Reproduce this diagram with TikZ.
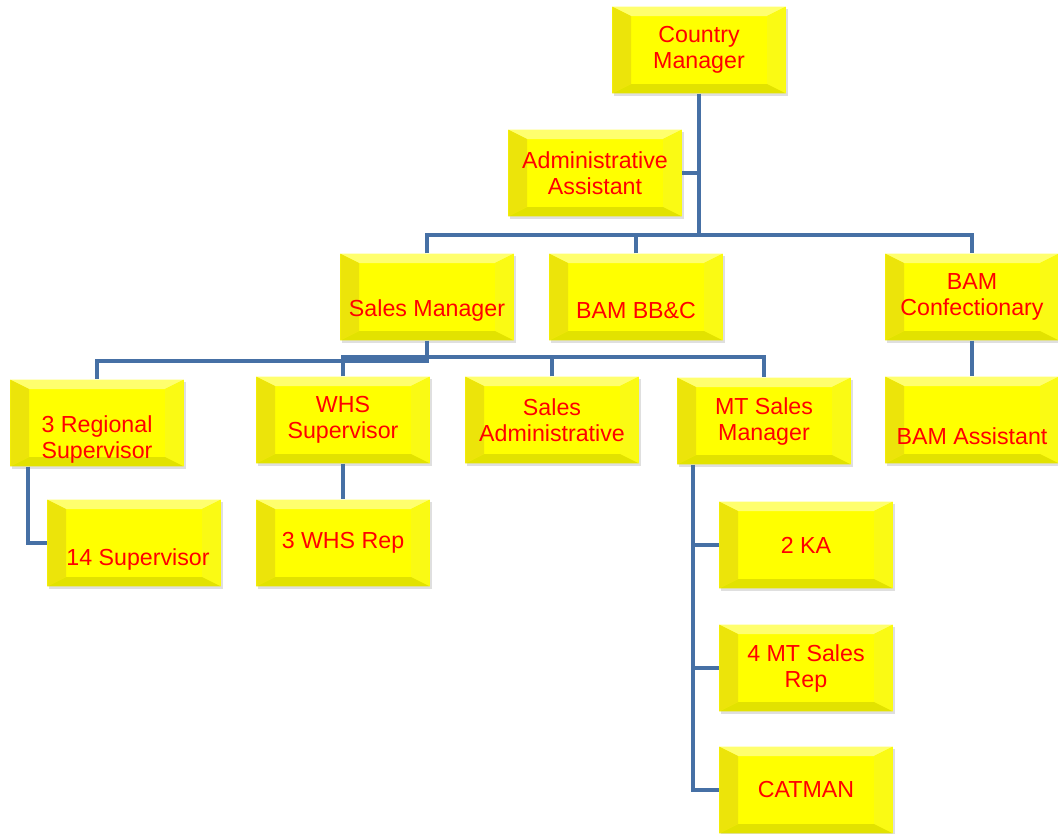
\documentclass[tikz,border=0pt]{standalone}
\usepackage{fontspec}
\setmainfont{Liberation Sans}
\usetikzlibrary{shadows}

\definecolor{boxyellow}{RGB}{255,255,0}
\definecolor{bevtop}{RGB}{255,255,110}
\definecolor{bevleft}{RGB}{236,228,10}
\definecolor{bevright}{RGB}{250,250,20}
\definecolor{bevbottom}{RGB}{226,226,0}
\definecolor{linkblue}{RGB}{70,112,165}

\newcommand{\orgfont}{\fontsize{17.4}{19.5}\selectfont}

\tikzset{
	txt/.style={text=red,font=\orgfont,align=center},
	bevel/.style={path picture={
		\path (path picture bounding box.north west) coordinate (p1)
		      (path picture bounding box.north east) coordinate (p2)
		      (path picture bounding box.south east) coordinate (p3)
		      (path picture bounding box.south west) coordinate (p4);
		\fill[bevtop] (p1) -- (p2) -- ([shift={(-14pt,-7pt)}]p2) -- ([shift={(14pt,-7pt)}]p1) -- cycle;
		\fill[bevright] (p2) -- (p3) -- ([shift={(-14pt,7pt)}]p3) -- ([shift={(-14pt,-7pt)}]p2) -- cycle;
		\fill[bevbottom] (p3) -- (p4) -- ([shift={(14pt,7pt)}]p4) -- ([shift={(-14pt,7pt)}]p3) -- cycle;
		\fill[bevleft] (p4) -- (p1) -- ([shift={(14pt,-7pt)}]p1) -- ([shift={(14pt,7pt)}]p4) -- cycle;
	}},
	orgbox/.style={txt,bevel,fill=boxyellow,minimum width=130pt,minimum height=65pt,inner sep=0pt,
		drop shadow={shadow xshift=1.5pt,shadow yshift=-2pt,opacity=0.25}},
	link/.style={draw=linkblue,line width=2.6pt}
}

\begin{document}
\begin{tikzpicture}
		[x=0.75pt,y=-0.75pt]
		\useasboundingbox (0,0) rectangle (1058,833);

		% top
		\node[orgbox] (cm) at (699,50) {Country\\Manager};
		\node[orgbox] (aa) at (595,173) {Administrative\\Assistant};

		% second row
		\node[orgbox,label={[txt,yshift=-10pt]center:Sales Manager}] (sm) at (427,297) {};
		\node[orgbox,label={[txt,yshift=-10pt]center:BAM BB\&C}] (bbc) at (636,297) {};
		\node[orgbox] (bamc) at (972,297) {BAM\\Confectionary};

		% third row
		\node[orgbox,label={[txt,yshift=-12.5pt]center:{3 Regional\\Supervisor}}] (rs) at (97,423) {};
		\node[orgbox] (ws) at (343,420) {WHS\\Supervisor};
		\node[orgbox] (sa) at (552,420) {Sales\\Administrative};
		\node[orgbox] (mt) at (764,421) {MT Sales\\Manager};
		\node[orgbox,label={[txt,yshift=-12.5pt]center:BAM Assistant}] (bama) at (972,420) {};

		% bottom rows
		\node[orgbox,label={[txt,yshift=-12.5pt,xshift=3pt]center:14 Supervisor}] (s14) at (134,543) {};
		\node[orgbox] (wr) at (343,543) {3 WHS Rep};
		\node[orgbox] (ka) at (806,545) {2 KA};
		\node[orgbox] (mr) at (806,668) {4 MT Sales\\Rep};
		\node[orgbox] (cat) at (806,790) {CATMAN};

		% joints
		\coordinate (j1) at (699,235);
		\coordinate (j2) at (427,361);
		\coordinate (j3) at (552,357);
		\coordinate (k1) at (28,543);
		\coordinate (k2) at (693,790);

		% links
		\draw[link] (cm.south) -- (j1);
		\draw[link] (aa.east) -- (aa.east -| j1);
		\draw[link] (sm.north) |- (j1) -| (bamc.north);
		\draw[link] (bbc.north) -- (bbc.north |- j1);
		\draw[link] (sm.south) -- (j2) -| (rs.north);
		\draw[link] (ws.north) |- (mt.north |- j3) -- (mt.north);
		\draw[link] (sa.north) -- (j3);
		\draw[link] (bamc.south) -- (bama.north);
		\draw[link] (rs.south -| k1) |- (s14.west);
		\draw[link] (ws.south) -- (wr.north);
		\draw[link] (mt.south -| k2) |- (cat.west);
		\draw[link] (ka.west) -- (ka.west -| k2);
		\draw[link] (mr.west) -- (mr.west -| k2);

	\end{tikzpicture}
\end{document}
